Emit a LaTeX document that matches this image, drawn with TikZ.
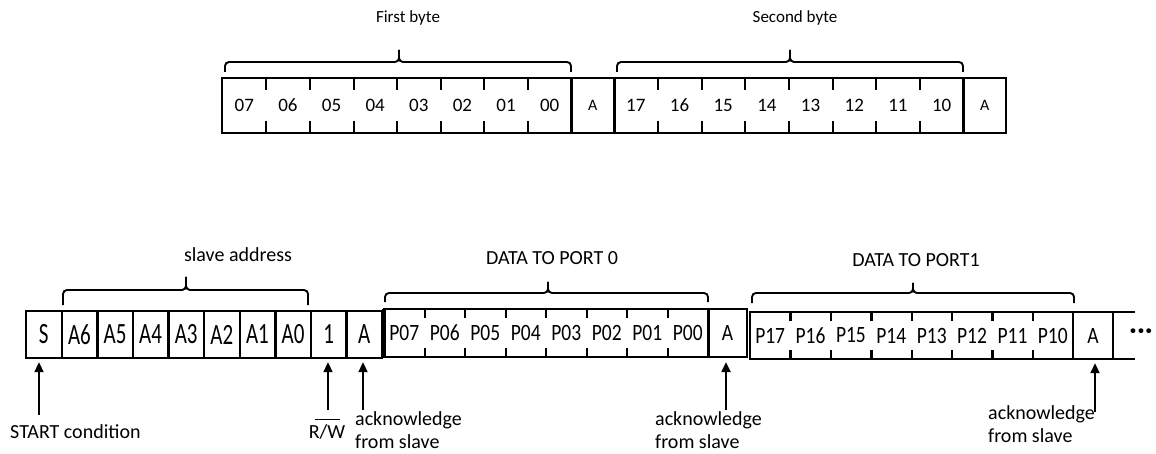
\documentclass[tikz,border=0pt]{standalone}
\usepackage{fontspec}
\usepackage{graphicx}
\setmainfont{Carlito}
\usetikzlibrary{arrows.meta,calc}
\newcommand\mybrace[6]{%
  \draw[brc] (#1,#5) |- (#3,#4) -- (#3,#6);
  \draw[brc] (#2,#5) |- (#3,#4) -- (#3,#6);}
\begin{document}
\begin{tikzpicture}[x=1pt,y=-1pt,
  brc/.style={line width=1.9pt, rounded corners=4pt},
  boxline/.style={line width=2pt},
  boxthick/.style={line width=3.4pt},
  bline/.style={line width=2.4pt},
  topcell/.style={inner sep=0pt, minimum height=55pt, font=\fontsize{19}{19}\selectfont},
  topack/.style={inner sep=0pt, minimum height=55pt, minimum width=42.5pt, font=\fontsize{16}{16}\selectfont},
  slavecell/.style={inner sep=0pt, minimum height=47pt, minimum width=35.6pt, font=\fontsize{21}{21}\selectfont},
  pcell/.style={inner sep=0pt, minimum height=#1, font=\fontsize{19.5}{19.5}\selectfont},
  lbls/.style={inner sep=0pt, font=\fontsize{17}{17}\selectfont},
  lbl/.style={inner sep=0pt, font=\fontsize{20}{23}\selectfont},
  arr/.style={line width=2pt, -{Triangle[length=10pt,width=9pt]}, shorten >=4pt}
]
\useasboundingbox (0,0) rectangle (1156,454);

% ---------- top row ----------
\foreach \t [count=\i from 0] in {07,06,05,04,03,02,01,00}
  \node[topcell, minimum width=43.625pt] (f\i) at ({222.5+43.625*\i+21.81},105.5) {\t};
\node[topack] (fa) at (592.75,105.5) {A};
\foreach \t [count=\i from 0] in {17,16,15,14,13,12,11,10}
  \node[topcell, minimum width=43.69pt] (g\i) at ({614+43.69*\i+21.84},105.5) {\t};
\node[topack] (ga) at (984.75,105.5) {A};
\draw[boxline] (f0.north west) rectangle (ga.south east);
\foreach \n in {f7,fa,g7} \draw[boxthick] (\n.north east) -- (\n.south east);
\foreach \i in {0,...,6} {
  \draw[boxline] (f\i.north east) -- ++(0,12);
  \draw[boxline] (f\i.south east) -- ++(0,-12);
  \draw[boxline] (g\i.north east) -- ++(0,12);
  \draw[boxline] (g\i.south east) -- ++(0,-12);
}
\node[lbls] (fb) at (408,18) {First byte};
\node[lbls] (sb) at (795,18) {Second byte};
\mybrace{225}{571}{399}{62}{72}{50}
\mybrace{617}{963}{790}{62}{72}{50}

% ---------- bottom row: slave address ----------
\foreach \t [count=\i from 0] in {S,A6,A5,A4,A3,A2,A1,A0,1,A}
  \node[slavecell] (s\i) at ({26+35.6*\i+17.8},334.5) {\scalebox{1}[1.4]{\t}};
\draw[bline] (s0.north west) rectangle (s9.south east);
\foreach \i in {0,...,8} \draw[bline] (s\i.north east) -- (s\i.south east);

% ---------- data to port 0 ----------
\foreach \t [count=\i from 0] in {7,6,5,4,3,2,1,0}
  \node[pcell=48pt, minimum width=40.5pt] (p0\i) at ({384+40.5*\i+20.25},333) {\scalebox{1}[1.2]{P0\t}};
\draw[bline] (p00.north west) rectangle (p07.south east);
\draw[boxthick] (p00.north west) -- (p00.south west);
\draw[boxthick] (p07.north east) -- (p07.south east);
\foreach \i in {0,...,6} {
  \draw[bline] (p0\i.north east) -- ++(0,9);
  \draw[bline] (p0\i.south east) -- ++(0,-9);
}
\node[pcell=48pt, minimum width=39pt, draw, line width=2.2pt] (a0) at (727.5,333) {\scalebox{1}[1.2]{A}};

% ---------- data to port 1 ----------
\foreach \t [count=\i from 0] in {7,6,5,4,3,2,1,0}
  \node[pcell=47pt, minimum width=40.375pt] (p1\i) at ({750+40.375*\i+20.19},335.5) {\scalebox{1}[1.2]{P1\t}};
\draw[bline] (p10.north west) rectangle (p17.south east);
\foreach \i in {0,...,6} {
  \draw[bline] (p1\i.north east) -- ++(0,9);
  \draw[bline] (p1\i.south east) -- ++(0,-9);
}
\node[pcell=47pt, minimum width=40pt] (a1) at (1093,335.5) {\scalebox{1}[1.2]{A}};
\draw[bline] (a1.north west) -- (a1.north east) -- ++(22,0);
\draw[bline] (a1.south west) -- (a1.south east) -- ++(22,0);
\draw[bline] (a1.north east) -- (a1.south east);
\node[inner sep=0pt, font=\fontsize{26}{26}\bfseries] (etc) at (1141,334) {·\kern1pt·\kern1pt·};

% ---------- brace labels ----------
\node[lbl] (sa) at (238,255) {slave address};
\node[lbl] (d0) at (552,258) {DATA TO PORT 0};
\node[lbl] (d1) at (916,260) {DATA TO PORT1};
\mybrace{63}{308}{186}{290}{305}{277}
\mybrace{385}{708}{548}{293}{302}{282}
\mybrace{752}{1074}{913}{293}{303}{283}

% ---------- bottom labels and arrows ----------
\node[lbl, anchor=west] (start) at (10,432) {START condition};
\node[lbl] (rw) at (327,432) {R/W};
\draw[line width=1.4pt] ($(rw.north)+(-12,-5)$) -- ($(rw.north)+(13,-5)$);
\node[lbl, anchor=north west, align=left] (ack1) at (355,411.5) {acknowledge\\from slave};
\node[lbl, anchor=north west, align=left] (ack2) at (655,411.5) {acknowledge\\from slave};
\node[lbl, anchor=north west, align=left] (ack3) at (988,405) {acknowledge\\from slave};

\coordinate (tS) at (39,415);
\coordinate (tRW) at (328,410);
\coordinate (tA1) at (363,410);
\coordinate (tA2) at (726,410);
\coordinate (tA3) at (1095,412);
\draw[arr] (tS) -- (tS |- s0.south);
\draw[arr] (tRW) -- (tRW |- s8.south);
\draw[arr] (tA1) -- (tA1 |- s9.south);
\draw[arr] (tA2) -- (tA2 |- a0.south);
\draw[arr] (tA3) -- (tA3 |- a1.south);
\end{tikzpicture}
\end{document}
